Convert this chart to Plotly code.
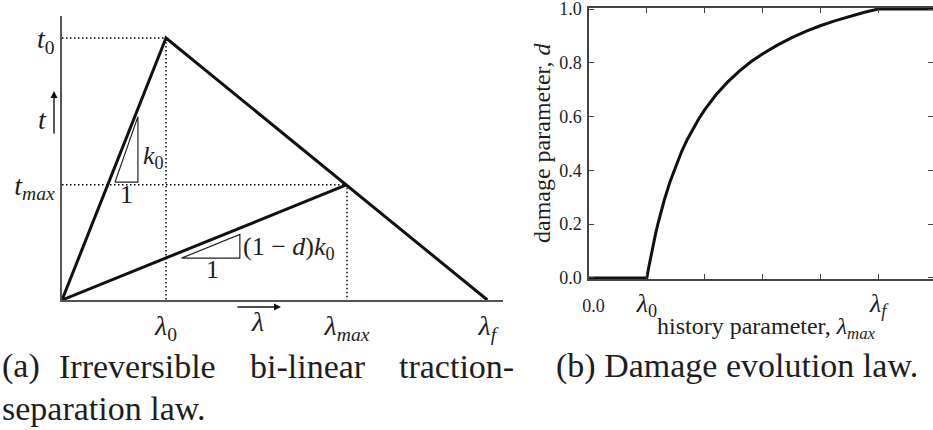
import plotly.graph_objects as go

W, H = 933, 430

# ---------------- Left panel data (normalised: lambda_0 = 1, t_0 = 1) ----------------
lam0 = 1.0
lam_max = 2.74
lam_f = 4.09
t0 = 1.0
t_max = 0.44

envelope_x = [0, lam0, lam_f]
envelope_y = [0, t0, 0]
unload_x = [0, lam_max]
unload_y = [0, t_max]

tri_k0_x = [0.51, 0.73, 0.73, 0.51]
tri_k0_y = [0.45, 0.45, 0.70, 0.45]
tri_kd_x = [1.15, 1.71, 1.71, 1.15]
tri_kd_y = [0.16, 0.16, 0.25, 0.16]

left_xticks = [lam0, lam_max, lam_f]
left_xlabels = ["<i>λ</i><sub>0</sub>", "<i>λ</i><sub><i>max</i></sub>", "<i>λ</i><sub><i>f</i></sub>"]
left_yticks = [t0, t_max]
left_ylabels = ["<i>t</i><sub>0</sub>", "<i>t</i><sub><i>max</i></sub>"]

# ---------------- Right panel data (lambda_0 = 1, lambda_f = 5) ----------------
hist_lam = [0.0, 1.0, 1.03, 1.06, 1.1, 1.15, 1.2, 1.25, 1.3, 1.4, 1.5, 1.6, 1.7, 1.8, 1.9,
            2.0, 2.2, 2.4, 2.6, 2.8, 3.0, 3.25, 3.5, 3.75, 4.0, 4.25, 4.5, 4.75, 5.0, 6.0]
damage = [0.0, 0.0, 0.036, 0.071, 0.114, 0.163, 0.208, 0.25, 0.288, 0.357, 0.417, 0.469,
          0.515, 0.556, 0.592, 0.625, 0.682, 0.729, 0.769, 0.804, 0.833, 0.865, 0.893,
          0.917, 0.938, 0.956, 0.972, 0.987, 1.0, 1.0]
right_xticks = [0, 1, 2, 3, 4, 5]
right_xlabels = ['<span style="font-size:18px">  0.0</span>', "<i>λ</i><sub>0</sub>", "", "", "",
                 "<i>λ</i><sub><i>f</i></sub>"]
right_yticks = [0.0, 0.2, 0.4, 0.6, 0.8, 1.0]
right_ylabels = ["0.0", "0.2", "0.4", "0.6", "0.8", "1.0"]

SERIF = '"Liberation Serif", "Times New Roman", Times, serif'
INK = "#1e1e1e"


def px(x):
    return x / W


def py(y):
    return 1 - y / H


fig = go.Figure()

# dotted guide lines
dot = dict(color="black", width=1.5, dash="1.5px,2.5px")
fig.add_trace(go.Scatter(x=[0, lam0, lam0], y=[t0, t0, 0], mode="lines", line=dot,
                         xaxis="x", yaxis="y", hoverinfo="skip"))
fig.add_trace(go.Scatter(x=[0, lam_max, lam_max], y=[t_max, t_max, 0], mode="lines", line=dot,
                         xaxis="x", yaxis="y", hoverinfo="skip"))
# envelope and unloading path
fig.add_trace(go.Scatter(x=envelope_x, y=envelope_y, mode="lines",
                         line=dict(color="#111", width=3), xaxis="x", yaxis="y"))
fig.add_trace(go.Scatter(x=unload_x, y=unload_y, mode="lines",
                         line=dict(color="#111", width=3), xaxis="x", yaxis="y"))
# slope triangles
fig.add_trace(go.Scatter(x=tri_k0_x, y=tri_k0_y, mode="lines",
                         line=dict(color="#222", width=1.2), xaxis="x", yaxis="y"))
fig.add_trace(go.Scatter(x=tri_kd_x, y=tri_kd_y, mode="lines",
                         line=dict(color="#222", width=1.2), xaxis="x", yaxis="y"))

# right panel curve
fig.add_trace(go.Scatter(x=hist_lam, y=damage, mode="lines",
                         line=dict(color="#111", width=3), xaxis="x2", yaxis="y2"))

math_font = dict(family=SERIF, size=28, color=INK)

fig.update_layout(
    width=W, height=H, showlegend=False,
    margin=dict(l=0, r=0, t=0, b=0, pad=0),
    font=dict(family=SERIF, color=INK),
    paper_bgcolor="white", plot_bgcolor="white",
    xaxis=dict(domain=[px(62), px(503)], range=[0, 4.24], showline=True, linecolor="#555",
               linewidth=1.5, showgrid=False, zeroline=False, ticks="",
               tickvals=left_xticks, ticktext=left_xlabels, tickfont=math_font,
               ticklabelstandoff=0, anchor="y", automargin=False),
    yaxis=dict(domain=[py(300), py(16)], range=[0, 1.084], showline=True, linecolor="#555",
               linewidth=1.5, showgrid=False, zeroline=False, ticks="",
               tickvals=left_yticks, ticktext=left_ylabels, tickfont=math_font,
               ticklabelstandoff=0, anchor="x", automargin=False),
    xaxis2=dict(domain=[px(589), 1.0], range=[0, 5.95], showline=True, linecolor="#444",
                linewidth=1.5, mirror="ticks", showgrid=False, zeroline=False,
                ticks="inside", ticklen=5, tickwidth=1, tickcolor="#444",
                tickvals=right_xticks, ticktext=right_xlabels, ticklabeloverflow="allow",
                tickfont=dict(family=SERIF, size=26, color=INK), anchor="y2", automargin=False),
    yaxis2=dict(domain=[py(279), py(8)], range=[-0.004, 1.004], showline=True, linecolor="#444",
                linewidth=1.5, mirror="ticks", showgrid=False, zeroline=False,
                ticks="inside", ticklen=5, tickwidth=1, tickcolor="#444",
                tickvals=right_yticks, ticktext=right_ylabels, ticklabeloverflow="allow",
                tickfont=dict(family=SERIF, size=18, color=INK), anchor="x2",
                ticklabelstandoff=2, automargin=False),
)

ann = []


def label(text, x, y, size=26, xanchor="center", yanchor="middle", angle=0):
    ann.append(dict(text=text, x=px(x), y=py(y), xref="paper", yref="paper",
                    xanchor=xanchor, yanchor=yanchor, showarrow=False, textangle=angle,
                    font=dict(family=SERIF, size=size, color=INK)))


# arrows for t and lambda
ann.append(dict(text="", x=px(54), y=py(91), ax=0, ay=44, xref="paper", yref="paper",
                showarrow=True, arrowhead=2, arrowsize=1, arrowwidth=1.4, arrowcolor="#111"))
ann.append(dict(text="", x=px(281), y=py(307), ax=-45, ay=0, xref="paper", yref="paper",
                showarrow=True, arrowhead=2, arrowsize=1, arrowwidth=1.4, arrowcolor="#111"))
label("<i>t</i>", 42, 119, size=28)
label("<i>λ</i>", 257, 321, size=28)
label("<i>k</i><sub>0</sub>", 141, 157, xanchor="left")
label("1", 126, 194)
label("(1 − <i>d</i>)<i>k</i><sub>0</sub>", 241, 248, xanchor="left")
label("1", 212, 269)

# right panel axis titles
label("history parameter, <i>λ</i><sub><i>max</i></sub>", 766, 328, size=24)
label("damage parameter, <i>d</i>", 542, 143, size=24, angle=-90)

# captions
cap = 34
label("(a)", 0, 366, size=cap, xanchor="left")
label("Irreversible", 57, 366, size=cap, xanchor="left")
label("bi-linear", 248, 366, size=cap, xanchor="left")
label("traction-", 397, 366, size=cap, xanchor="left")
label("(b) Damage evolution law.", 554, 366, size=cap, xanchor="left")
label("separation law.", 0, 408, size=cap, xanchor="left")

fig.update_layout(annotations=ann)
fig.write_html("out.html")
